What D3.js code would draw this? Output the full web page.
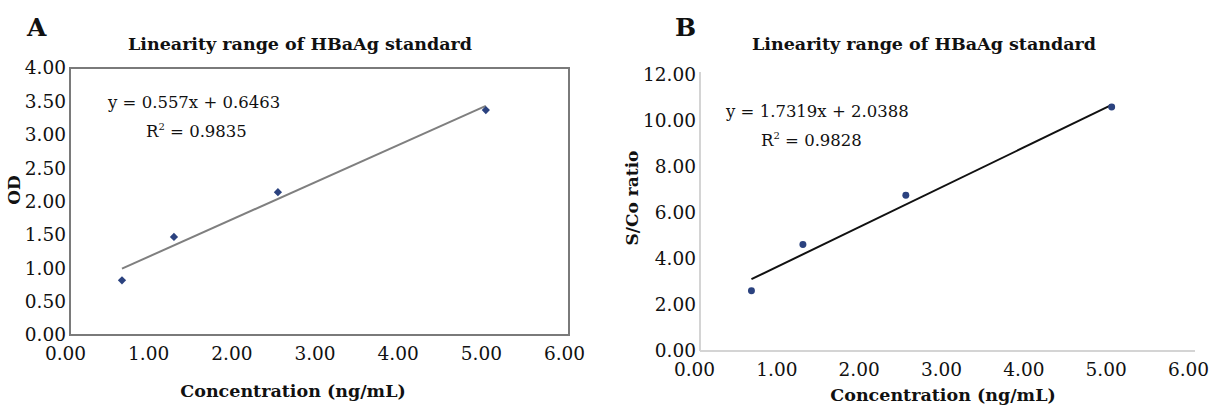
<!DOCTYPE html>
<html>
<head>
<meta charset="utf-8">
<script src="https://cdn.jsdelivr.net/npm/d3@7"></script>
<style>
  body { margin: 0; background: #fff; }
  svg text { font-family: "DejaVu Serif", serif; fill: #111; }
</style>
</head>
<body>
<script>
const W = 1213, H = 405;

// concentrations (ng/mL), shared by both panels
const conc = [0.625, 1.25, 2.5, 5];
// panel A: OD
const odValues = [0.82, 1.47, 2.14, 3.37];
// panel B: S/Co ratio
const scoValues = [2.62, 4.63, 6.77, 10.61];

const xTicks = [0, 1, 2, 3, 4, 5, 6];
const yTicksA = [0, 0.5, 1, 1.5, 2, 2.5, 3, 3.5, 4];
const yTicksB = [0, 2, 4, 6, 8, 10, 12];

// trendline labels as printed on the chart
const fitA = {slope: 0.557, intercept: 0.6463, r2: '0.9835'};
const fitB = {slope: 1.7319, intercept: 2.0388, r2: '0.9828'};

const title = 'Linearity range of HBaAg standard';
const xTitle = 'Concentration (ng/mL)';

const svg = d3.select('body').append('svg')
  .attr('width', W)
  .attr('height', H);

const fmt = d3.format('.2f');

function panel(o) {
  const x = d3.scaleLinear().domain([0, 6]).range([o.left, o.right]);
  const y = d3.scaleLinear().domain([0, o.yMax]).range([o.bottom, o.top]);
  const g = svg.append('g');

  //frame or plain axes
  if (o.box) {
    g.append('rect')
      .attr('x', o.left).attr('y', o.top)
      .attr('width', o.right - o.left).attr('height', o.bottom - o.top)
      .attr('fill', 'none').attr('stroke', '#7a7a7a').attr('stroke-width', 2);
  } else {
    g.append('line')
      .attr('x1', o.left).attr('x2', o.left).attr('y1', o.top - 3).attr('y2', o.bottom)
      .attr('stroke', '#d4d4d4').attr('stroke-width', 2);
    g.append('line')
      .attr('x1', o.left).attr('x2', o.right + 1).attr('y1', o.bottom).attr('y2', o.bottom)
      .attr('stroke', '#d4d4d4').attr('stroke-width', 2);
  }

  const yAxis = g.append('g')
    .attr('transform', `translate(${o.left},0)`)
    .call(d3.axisLeft(y).tickValues(o.yTicks).tickFormat(fmt).tickSize(0).tickPadding(4));
  const xAxis = g.append('g')
    .attr('transform', `translate(0,${o.bottom})`)
    .call(d3.axisBottom(x).tickValues(xTicks).tickFormat(fmt).tickSize(0).tickPadding(o.xPad));
  [yAxis, xAxis].forEach(a => {
    a.select('.domain').remove();
    a.selectAll('text').style('font-family', '"DejaVu Serif", serif')
      .style('font-size', '18.5px').attr('fill', '#111');
  });
  xAxis.selectAll('text').attr('dx', o.xdx);

  //trendline over the data range
  const x0 = d3.min(conc), x1 = d3.max(conc);
  g.append('line')
    .attr('x1', x(x0)).attr('y1', y(o.fit.slope * x0 + o.fit.intercept))
    .attr('x2', x(x1)).attr('y2', y(o.fit.slope * x1 + o.fit.intercept))
    .attr('stroke', o.lineColor).attr('stroke-width', 2);

  //points
  const sym = d3.symbol().type(o.symbol).size(o.symSize);
  g.selectAll('path.pt')
    .data(conc.map((c, i) => [c, o.values[i]]))
    .enter()
    .append('path')
    .attr('class', 'pt')
    .attr('d', sym)
    .attr('transform', d => `translate(${x(d[0])},${y(d[1])}) rotate(${o.rot})`)
    .attr('fill', '#2b427f');

  //texts
  g.append('text')
    .attr('x', o.letterX).attr('y', 36)
    .attr('font-size', 25).attr('font-weight', 'bold')
    .text(o.letter);
  g.append('text')
    .attr('x', o.titleX).attr('y', 50)
    .attr('text-anchor', 'middle')
    .attr('font-size', 17.5).attr('font-weight', 'bold')
    .text(title);
  g.append('text')
    .attr('x', o.xTitleX).attr('y', o.xTitleY)
    .attr('text-anchor', 'middle')
    .attr('font-size', 17.5).attr('font-weight', 'bold')
    .text(xTitle);
  g.append('text')
    .attr('transform', `translate(${o.yTitleX},${o.yTitleY}) rotate(-90)`)
    .attr('text-anchor', 'middle')
    .attr('font-size', 17).attr('font-weight', 'bold')
    .text(o.yTitle);

  const eq = g.append('text')
    .attr('x', o.eqX).attr('y', o.eqY)
    .attr('font-size', 16.5);
  eq.text(`y = ${o.fit.slope}x + ${o.fit.intercept}`);
  const r = g.append('text')
    .attr('x', o.r2X).attr('y', o.eqY + 29)
    .attr('font-size', 16.5);
  r.append('tspan').text('R');
  r.append('tspan').attr('font-size', 10).attr('dy', -7).text('2');
  r.append('tspan').attr('dy', 7).text(` = ${o.fit.r2}`);
}

panel({
  letter: 'A', letterX: 27,
  left: 70, right: 569, top: 68, bottom: 335,
  yMax: 4, yTicks: yTicksA, values: odValues, fit: fitA,
  box: true, xPad: 12, xdx: -5,
  symbol: d3.symbolSquare, symSize: 34, rot: 45, lineColor: '#7f7f7f',
  titleX: 300, xTitleX: 293, xTitleY: 397,
  yTitle: 'OD', yTitleX: 20, yTitleY: 190,
  eqX: 108, eqY: 108, r2X: 146
});

panel({
  letter: 'B', letterX: 675,
  left: 700, right: 1194, top: 75, bottom: 351,
  yMax: 12, yTicks: yTicksB, values: scoValues, fit: fitB,
  box: false, xPad: 12, xdx: -6,
  symbol: d3.symbolCircle, symSize: 38, rot: 0, lineColor: '#111',
  titleX: 924, xTitleX: 943, xTitleY: 401,
  yTitle: 'S/Co ratio', yTitleX: 638, yTitleY: 198,
  eqX: 726, eqY: 117, r2X: 761
});
</script>
</body>
</html>
